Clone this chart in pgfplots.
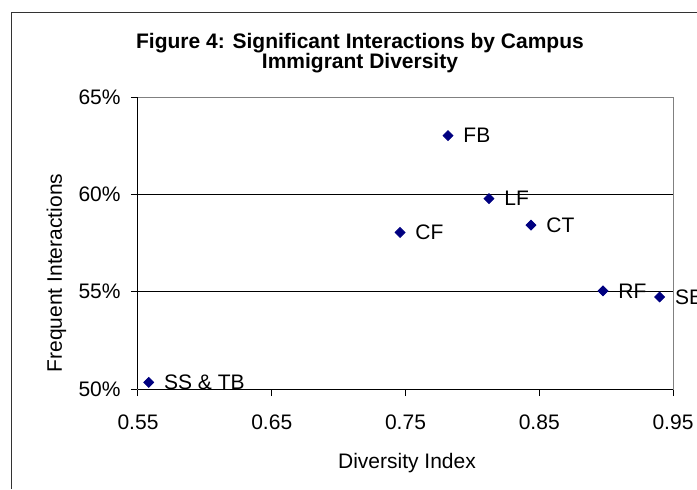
\documentclass[border=0pt]{standalone}
\usepackage{pgfplots}
\pgfplotsset{compat=1.18}
\usepackage{fontspec}
\setmainfont{Liberation Sans}
\definecolor{navyx}{RGB}{0,0,128}
\definecolor{frameg}{RGB}{128,128,128}
\begin{document}
\fontsize{10.5}{12.6}\selectfont
\begin{tikzpicture}[x=0.5pt,y=0.5pt]
\begin{axis}[
  width=267.5pt, height=146pt, scale only axis,
  xmin=0.55, xmax=0.95, ymin=50, ymax=65,
  xtick={0.55,0.65,0.75,0.85,0.95},
  xticklabels={0.55,0.65,0.75,0.85,0.95},
  ytick={50,55,60,65},
  yticklabels={50\%,55\%,60\%,65\%},
  tick align=outside, xtick pos=bottom, ytick pos=left,
  major tick length=3.5pt,
  tick style={black, line width=0.5pt},
  axis line style={frameg, line width=0.5pt},
  ymajorgrids, grid style={black, line width=0.5pt},
  xticklabel style={anchor=north, inner sep=0pt, yshift=-9pt},
  yticklabel style={anchor=east, inner sep=0pt, xshift=-5pt},
  clip=false,
  nodes near coords,
  point meta=explicit symbolic,
  every node near coord/.style={anchor=west, inner sep=0pt, xshift=7.5pt, black, font=\fontsize{10.5}{12.6}\selectfont},
]
\addplot[only marks, mark=square*, mark size=1.75pt, mark options={rotate=45, fill=navyx, draw=navyx}, color=navyx]
  table[meta=label] {
x y label
0.558 50.34 {SS\ \&\ TB}
0.7459 58.04 CF
0.7818 63.02 FB
0.8124 59.78 LF
0.8438 58.42 CT
0.8977 55.04 RF
0.940 54.73 SB
};
\draw[black, line width=0.5pt] (rel axis cs:0,0) -- (rel axis cs:1,0);
\draw[black, line width=0.5pt] (rel axis cs:0,0) -- (rel axis cs:0,1);
\coordinate (O) at (rel axis cs:0,0);
\end{axis}
\pgfresetboundingbox
\begin{scope}[shift={(O)}, shift={(-138,-100)}]
\useasboundingbox (0,0) rectangle (697,489);
\draw[black!80, line width=0.5pt] (12,0) -- (12,477) -- (697,477);
\node[anchor=base, font=\bfseries] at (360,441) {Figure 4: Significant Interactions by Campus};
\node[anchor=base, font=\bfseries] at (360,421) {Immigrant Diversity};
\node[anchor=base] at (407,21) {Diversity Index};
\node[anchor=base, rotate=90] at (62,216) {Frequent Interactions};
\end{scope}
\end{tikzpicture}
\end{document}
